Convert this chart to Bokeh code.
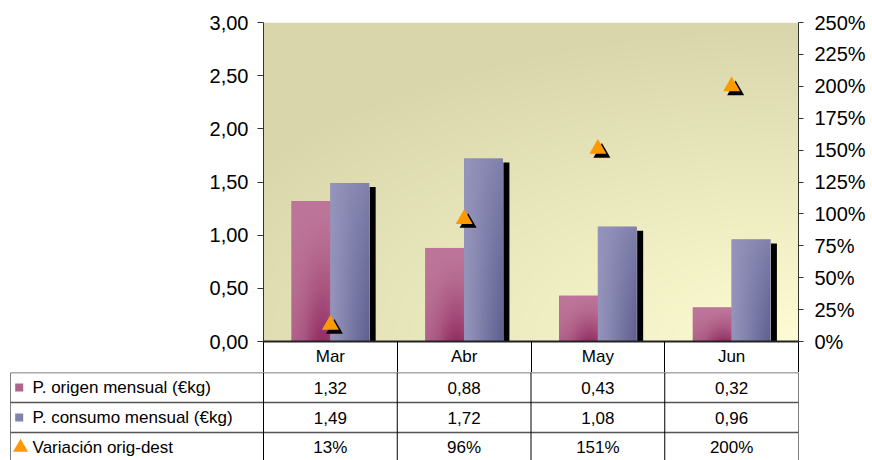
import numpy as np
from bokeh.plotting import figure
from bokeh.models import (Range1d, LinearAxis, FixedTicker, CustomJSTickFormatter,
                          NumeralTickFormatter, Grid)
from bokeh.layouts import column
from bokeh.embed import file_html
from bokeh.resources import INLINE
from bokeh.core.properties import value

# ---------------- data ----------------
months = ["Mar", "Abr", "May", "Jun"]
p_origen = [1.32, 0.88, 0.43, 0.32]
p_consumo = [1.49, 1.72, 1.08, 0.96]
variacion = [0.13, 0.96, 1.51, 2.00]
left_ticks = [0.0, 0.5, 1.0, 1.5, 2.0, 2.5, 3.0]
right_ticks = [0.0, 0.25, 0.5, 0.75, 1.0, 1.25, 1.5, 1.75, 2.0, 2.25, 2.5]
row_labels = ["P. origen mensual (€kg)", "P. consumo mensual (€kg)", "Variación orig-dest"]

# ---------------- style ----------------
FONT = value("Liberation Sans")
PINK = "#b0648d"
BLUE = "#8283ad"
ORANGE = "#ff9900"
W = 872
LEFT = 263
RIGHT = 74
TABLE_LEFT = 10
TOP_H = 372
HEADER = 31
TBL_H = 88
ROW = 30
FRAME_W = W - LEFT - RIGHT
PX = len(months) / FRAME_W  # data units per pixel (x)


def rgba_image(rgb):
    ny, nx, _ = rgb.shape
    img = np.zeros((ny, nx), dtype=np.uint32)
    view = img.view(dtype=np.uint8).reshape((ny, nx, 4))
    for k in range(3):
        view[..., k] = np.clip(rgb[..., k], 0, 255).astype(np.uint8)
    view[..., 3] = 255
    return img


def blend(c0, c1, t):
    c0 = np.array(c0, dtype=float)
    c1 = np.array(c1, dtype=float)
    return c0[None, None, :] + (c1 - c0)[None, None, :] * t[..., None]


xc = [i + 0.5 for i in range(len(months))]

top = figure(width=W, height=TOP_H, x_range=Range1d(0, len(months)), y_range=Range1d(0, 3),
             output_backend="svg", toolbar_location=None,
             x_axis_location=None, y_axis_location=None,
             min_border_left=LEFT, min_border_right=RIGHT, min_border_top=22,
             min_border_bottom=HEADER, frame_align=False)
top.outline_line_color = None
top.xgrid.visible = False
top.ygrid.visible = False
top.extra_y_ranges = {"pct": Range1d(0, 2.5)}

# background gradient
nx, ny = 268, 160
u = np.linspace(0, 1, nx)[None, :]
v = np.linspace(0, 1, ny)[:, None]
d = np.sqrt(((1 - u) * 0.8) ** 2 + (v * 1.0) ** 2)
f = np.clip(1 - d, 0, 1)
bg = rgba_image(blend((0xd8, 0xd6, 0xaa), (0xfe, 0xfc, 0xd2), f))
top.image_rgba(image=[bg], x=0, y=0, dw=len(months), dh=3)

grid = Grid(dimension=1, ticker=FixedTicker(ticks=left_ticks), grid_line_color="#555555",
            grid_line_dash="3 2", grid_line_width=1)
top.add_layout(grid, "center")

# bar gradients (shading only)
bnx, bny = 40, 120
bu = np.linspace(0, 1, bnx)[None, :]
bv = np.linspace(0, 1, bny)[:, None]
pink_t = np.clip((1 - bv) ** 1.6 * (0.25 + 0.75 * np.exp(-((bu - 0.8) / 0.45) ** 2)), 0, 1)
pink_img = rgba_image(blend((0xbd, 0x76, 0x99), (0x93, 0x2f, 0x63), pink_t))
blue_t = np.clip(bu ** 1.1 * (0.35 + 0.65 * (1 - bv) ** 0.8), 0, 1)
blue_img = rgba_image(blend((0x94, 0x94, 0xbc), (0x5e, 0x5f, 0x8f), blue_t))

# bars
dodge = 0.145
bw = 0.29
sh_off = bw / 2 + 3.5 * PX
sh_w = 6 * PX
sh_drop = 4 * 3 / 319
top.vbar(x=[x + dodge + sh_off for x in xc], top=[t - sh_drop for t in p_consumo], width=sh_w,
         fill_color="black", line_color=None)
top.vbar(x=[x - dodge for x in xc], top=p_origen, width=bw, fill_color=PINK, line_color=None)
top.vbar(x=[x + dodge for x in xc], top=p_consumo, width=bw, fill_color=BLUE, line_color=None)
top.image_rgba(image=[pink_img] * len(xc), x=[x - dodge - bw / 2 for x in xc], y=0,
               dw=bw, dh=p_origen)
top.image_rgba(image=[blue_img] * len(xc), x=[x + dodge - bw / 2 for x in xc], y=0,
               dw=bw, dh=p_consumo)

# triangles
top.scatter(x=[x + 0.03 for x in xc], y=[v_ - 0.031 for v_ in variacion], marker="triangle",
            size=17, fill_color="black", line_color=None, y_range_name="pct")
top.scatter(x=xc, y=variacion, marker="triangle", size=17, fill_color=ORANGE,
            line_color=None, y_range_name="pct")

# axes
yl = LinearAxis(ticker=FixedTicker(ticks=left_ticks),
                formatter=CustomJSTickFormatter(code="return tick.toFixed(2).replace('.', ',');"))
yl.major_label_text_font = "Liberation Sans"
yl.major_label_text_font_size = "20px"
yl.major_label_text_color = "black"
yl.major_tick_in = 0
yl.major_tick_out = 6
yl.minor_tick_line_color = None
yl.axis_line_color = "#333333"
yl.major_tick_line_color = "#333333"
yl.major_label_standoff = 9
top.add_layout(yl, "left")

yr = LinearAxis(y_range_name="pct", ticker=FixedTicker(ticks=right_ticks),
                formatter=NumeralTickFormatter(format="0%"))
yr.major_label_text_font = "Liberation Sans"
yr.major_label_text_font_size = "20px"
yr.major_label_text_color = "black"
yr.major_tick_in = 0
yr.major_tick_out = 5
yr.minor_tick_line_color = None
yr.axis_line_color = "#333333"
yr.major_tick_line_color = "#333333"
yr.major_label_standoff = 11
top.add_layout(yr, "right")

xb = LinearAxis(ticker=FixedTicker(ticks=xc, minor_ticks=list(range(len(months) + 1))),
                major_label_overrides={x: m for x, m in zip(xc, months)})
xb.major_label_text_font = "Liberation Sans"
xb.major_label_text_font_size = "17px"
xb.major_label_text_color = "black"
xb.major_tick_line_color = None
xb.major_tick_out = 0
xb.major_tick_in = 0
xb.minor_tick_in = 0
xb.minor_tick_out = HEADER
xb.minor_tick_line_color = "black"
xb.axis_line_color = "#222222"
xb.axis_line_width = 2
xb.major_label_standoff = 5 - HEADER
top.add_layout(xb, "below")

# ---------------- table ----------------
L = (LEFT - TABLE_LEFT) / (FRAME_W / len(months))
tbl = figure(width=W, height=TBL_H, x_range=Range1d(-L, len(months)), y_range=Range1d(TBL_H / ROW, 0),
             output_backend="svg", toolbar_location=None,
             x_axis_location=None, y_axis_location=None,
             min_border_left=TABLE_LEFT, min_border_right=RIGHT, min_border_top=0, min_border_bottom=0,
             frame_align=False)
tbl.outline_line_color = None
tbl.xgrid.visible = False
tbl.ygrid.visible = False

nrows = len(row_labels)
tbl.segment(x0=[-L] * nrows, x1=[len(months)] * nrows, y0=list(range(nrows)), y1=list(range(nrows)),
            line_color="#555555", line_width=1.5)
vx = [-L] + list(range(len(months) + 1))
tbl.segment(x0=vx, x1=vx, y0=[0] * len(vx), y1=[nrows] * len(vx), line_color="black", line_width=1)

cells_txt = []
cells_x = []
cells_y = []
for r, vals in enumerate([p_origen, p_consumo]):
    for i, val in enumerate(vals):
        cells_txt.append(f"{val:.2f}".replace(".", ","))
        cells_x.append(xc[i])
        cells_y.append(r + 0.5)
for i, val in enumerate(variacion):
    cells_txt.append(f"{round(val * 100)}%")
    cells_x.append(xc[i])
    cells_y.append(2.5)
tbl.text(x=cells_x, y=cells_y, text=cells_txt, text_align="center", text_baseline="middle",
         text_font=FONT, text_font_size="17px", text_color="black")

ry = [r + 0.5 for r in range(nrows)]
tbl.text(x=[-L + 0.165] * nrows, y=ry, text=row_labels, text_align="left", text_baseline="middle",
         text_font=FONT, text_font_size="17px", text_color="black")
tbl.scatter(x=[-L + 0.065] * 2, y=ry[:2], marker="square", size=8, fill_color=[PINK, BLUE],
            line_color=None)
tbl.scatter(x=[-L + 0.075], y=[ry[2]], marker="triangle", size=15, fill_color=ORANGE, line_color=None)

layout = column(top, tbl, spacing=0)
open("out.html", "w").write(file_html(layout, INLINE))
